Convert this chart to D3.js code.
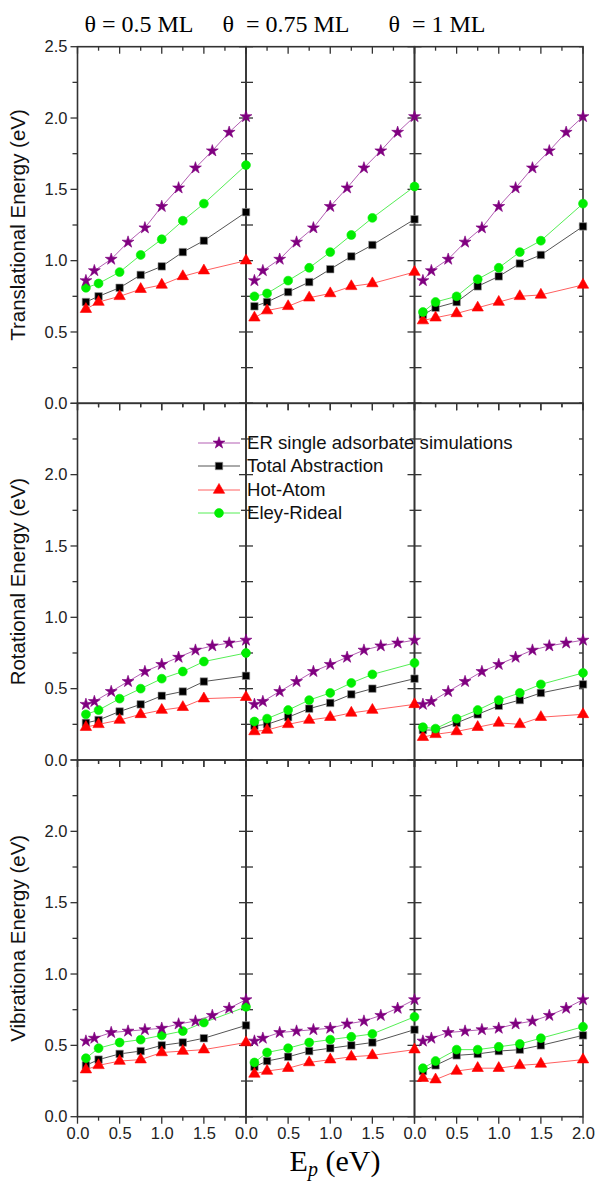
<!DOCTYPE html>
<html><head><meta charset="utf-8">
<script src="https://cdn.jsdelivr.net/npm/d3@7"></script>
<style>body{margin:0;background:#fff}svg{display:block}</style>
</head><body>
<svg id="c" width="595" height="1185"></svg>
<script>
// ---- data ----
const coverages = ["θ = 0.5 ML", "θ  = 0.75 ML", "θ  = 1 ML"];
const rowTitles = ["Translational Energy (eV)", "Rotational Energy (eV)", "Vibrationa Energy (eV)"];
const seriesNames = ["ER single adsorbate simulations", "Total Abstraction", "Hot-Atom", "Eley-Rideal"];
const xER = [0.1, 0.2, 0.4, 0.6, 0.8, 1.0, 1.2, 1.4, 1.6, 1.8, 2.0];
const xMC = [0.1, 0.25, 0.5, 0.75, 1.0, 1.25, 1.5, 2.0];
const xTicks = [0, 0.5, 1.0, 1.5, 2.0];
const yTicks = [0, 0.5, 1.0, 1.5, 2.0, 2.5];

// Translational
const erTrans = [0.86, 0.93, 1.01, 1.13, 1.23, 1.38, 1.51, 1.65, 1.77, 1.90, 2.01];
const transTotal05 = [0.71, 0.75, 0.81, 0.90, 0.96, 1.06, 1.14, 1.34];
const transHot05 = [0.66, 0.71, 0.75, 0.80, 0.83, 0.89, 0.93, 1.00];
const transEley05 = [0.81, 0.84, 0.92, 1.04, 1.15, 1.28, 1.40, 1.67];
const transTotal075 = [0.68, 0.71, 0.78, 0.85, 0.94, 1.03, 1.11, 1.29];
const transHot075 = [0.60, 0.65, 0.68, 0.74, 0.77, 0.82, 0.84, 0.92];
const transEley075 = [0.75, 0.77, 0.86, 0.95, 1.06, 1.18, 1.30, 1.52];
const transTotal1 = [0.62, 0.67, 0.71, 0.82, 0.89, 0.98, 1.04, 1.24];
const transHot1 = [0.58, 0.60, 0.63, 0.67, 0.71, 0.75, 0.76, 0.83];
const transEley1 = [0.64, 0.71, 0.75, 0.87, 0.95, 1.06, 1.14, 1.40];
// Rotational
const erRot = [0.39, 0.41, 0.48, 0.55, 0.62, 0.67, 0.72, 0.77, 0.80, 0.82, 0.84];
const rotTotal05 = [0.26, 0.28, 0.34, 0.39, 0.45, 0.48, 0.55, 0.59];
const rotHot05 = [0.23, 0.25, 0.28, 0.32, 0.35, 0.37, 0.43, 0.44];
const rotEley05 = [0.32, 0.35, 0.43, 0.50, 0.57, 0.62, 0.69, 0.75];
const rotTotal075 = [0.24, 0.25, 0.30, 0.36, 0.40, 0.46, 0.50, 0.57];
const rotHot075 = [0.20, 0.21, 0.25, 0.28, 0.30, 0.33, 0.35, 0.39];
const rotEley075 = [0.27, 0.29, 0.35, 0.42, 0.47, 0.54, 0.60, 0.68];
const rotTotal1 = [0.21, 0.21, 0.26, 0.32, 0.38, 0.42, 0.47, 0.53];
const rotHot1 = [0.16, 0.18, 0.20, 0.23, 0.26, 0.25, 0.30, 0.32];
const rotEley1 = [0.23, 0.22, 0.29, 0.35, 0.42, 0.47, 0.53, 0.61];
// Vibrational
const erVib = [0.53, 0.55, 0.59, 0.60, 0.61, 0.62, 0.65, 0.67, 0.71, 0.76, 0.82];
const vibTotal05 = [0.36, 0.40, 0.44, 0.46, 0.50, 0.52, 0.55, 0.64];
const vibHot05 = [0.33, 0.36, 0.39, 0.40, 0.45, 0.46, 0.47, 0.52];
const vibEley05 = [0.41, 0.48, 0.52, 0.54, 0.57, 0.60, 0.66, 0.77];
const vibTotal075 = [0.35, 0.39, 0.42, 0.46, 0.48, 0.50, 0.52, 0.61];
const vibHot075 = [0.30, 0.32, 0.34, 0.38, 0.40, 0.42, 0.43, 0.47];
const vibEley075 = [0.38, 0.45, 0.48, 0.52, 0.54, 0.56, 0.58, 0.70];
const vibTotal1 = [0.32, 0.36, 0.43, 0.44, 0.46, 0.47, 0.50, 0.57];
const vibHot1 = [0.27, 0.26, 0.32, 0.34, 0.34, 0.36, 0.37, 0.40];
const vibEley1 = [0.34, 0.39, 0.47, 0.47, 0.49, 0.51, 0.55, 0.63];

const erRows = [erTrans, erRot, erVib];
const mcRows = [
  [[transTotal05, transHot05, transEley05], [transTotal075, transHot075, transEley075], [transTotal1, transHot1, transEley1]],
  [[rotTotal05, rotHot05, rotEley05], [rotTotal075, rotHot075, rotEley075], [rotTotal1, rotHot1, rotEley1]],
  [[vibTotal05, vibHot05, vibEley05], [vibTotal075, vibHot075, vibEley075], [vibTotal1, vibHot1, vibEley1]]
];

// ---- styles ----
const styles = [
  {line: "#b35fb3", fill: "#800080", stroke: "#800080", sym: d3.symbolStar, size: 44},
  {line: "#555", fill: "#000", stroke: "#999", sym: d3.symbolSquare, size: 56},
  {line: "#ff6060", fill: "#ff0000", stroke: "#ff0000", sym: d3.symbolTriangle, size: 56},
  {line: "#55ee55", fill: "#00ee00", stroke: "#00ee00", sym: d3.symbolCircle, size: 62}
];

const svg = d3.select("#c");
const colX = [[77.5, 246], [246, 414.5], [414.5, 583]];
const rowY = [[403.3, 46.7], [760, 403.3], [1116.7, 760]];
const axisColor = "#333";
const sans = "Liberation Sans, Arial, sans-serif";
const serif = "Liberation Serif, Times New Roman, serif";

const xs = colX.map(r => d3.scaleLinear().domain([0, 2]).range(r));
const ys = rowY.map(r => d3.scaleLinear().domain([0, 2.5]).range(r));
const minorX = d3.range(0, 2.001, 0.25);
const minorY = d3.range(0, 2.501, 0.25);
const isMajor = d => Math.abs(d * 2 - Math.round(d * 2)) < 1e-6;

const gAx = svg.append("g");
for (let r = 0; r < 3; r++) {
  for (let c = 0; c < 3; c++) {
    const x = xs[c], y = ys[r];
    const [x0, x1] = x.range(), [yb, yt] = y.range();
    [yt, yb].forEach(yy => {
      gAx.selectAll(null).data(minorX).join("line")
        .attr("x1", d => x(d)).attr("x2", d => x(d))
        .attr("y1", yy).attr("y2", d => yy + (isMajor(d) ? 7 : 4))
        .attr("stroke", axisColor).attr("stroke-width", 1.3);
    });
    gAx.selectAll(null).data(minorY).join("line")
      .attr("y1", d => y(d)).attr("y2", d => y(d))
      .attr("x1", d => x0 - (isMajor(d) ? 7 : 5))
      .attr("x2", c === 0 ? x0 : x0 + 7)
      .attr("stroke", axisColor).attr("stroke-width", 1.3);
    if (c === 2) {
      gAx.selectAll(null).data(minorY).join("line")
        .attr("y1", d => y(d)).attr("y2", d => y(d))
        .attr("x1", x1 - 4).attr("x2", x1)
        .attr("stroke", axisColor).attr("stroke-width", 1.3);
    }
    gAx.append("rect").attr("x", x0).attr("y", yt).attr("width", x1 - x0).attr("height", yb - yt)
      .attr("fill", "none").attr("stroke", axisColor).attr("stroke-width", 1.6);
  }
  const y = ys[r];
  const labs = r === 0 ? yTicks : yTicks.slice(0, 5);
  const ax = d3.axisLeft(y).tickValues(labs).tickFormat(d3.format(".1f")).tickSize(0).tickPadding(10);
  const g = svg.append("g").attr("transform", `translate(${colX[0][0]},0)`).call(ax);
  g.select(".domain").remove();
  g.selectAll("text").attr("font-family", sans).attr("font-size", 16.5).attr("fill", "#222");
  svg.append("text").attr("transform", `translate(25,${(rowY[r][0] + rowY[r][1]) / 2}) rotate(-90)`)
    .attr("text-anchor", "middle").attr("font-family", sans).attr("font-size", 20.5).attr("fill", "#111")
    .text(rowTitles[r]);
}
for (let c = 0; c < 3; c++) {
  const ax = d3.axisBottom(xs[c]).tickValues(c === 2 ? xTicks : xTicks.slice(0, 4))
    .tickFormat(d3.format(".1f")).tickSize(0).tickPadding(11);
  const g = svg.append("g").attr("transform", `translate(0,${rowY[2][0]})`).call(ax);
  g.select(".domain").remove();
  g.selectAll("text").attr("font-family", sans).attr("font-size", 16.5).attr("fill", "#222");
  svg.append("text").attr("x", [139, 286, 437][c]).attr("y", 32).attr("text-anchor", "middle")
    .attr("font-family", serif).attr("font-size", 24).attr("fill", "#000")
    .style("white-space", "pre").text(coverages[c]);
}
const xt = svg.append("text").attr("x", 335).attr("y", 1171).attr("text-anchor", "middle")
  .attr("font-family", serif).attr("font-size", 30).attr("fill", "#000");
xt.append("tspan").text("E");
xt.append("tspan").attr("font-size", 20).attr("font-style", "italic").attr("dy", 5).text("p");
xt.append("tspan").attr("dy", -5).text(" (eV)");

// ---- series ----
const gData = svg.append("g");
function drawSeries(xv, yv, x, y, st) {
  const line = d3.line().x((d, i) => x(xv[i])).y(d => y(d));
  gData.append("path").datum(yv).attr("d", line).attr("fill", "none")
    .attr("stroke", st.line).attr("stroke-width", 1);
  gData.selectAll(null).data(yv).join("path")
    .attr("transform", (d, i) => `translate(${x(xv[i])},${y(d)})`)
    .attr("d", d3.symbol().type(st.sym).size(st.size))
    .attr("fill", st.fill).attr("stroke", st.stroke).attr("stroke-width", 0.6);
}
for (let r = 0; r < 3; r++) {
  for (let c = 0; c < 3; c++) {
    const [tot, hot, eley] = mcRows[r][c];
    drawSeries(xMC, tot, xs[c], ys[r], styles[1]);
    drawSeries(xMC, hot, xs[c], ys[r], styles[2]);
    drawSeries(xMC, eley, xs[c], ys[r], styles[3]);
    drawSeries(xER, erRows[r], xs[c], ys[r], styles[0]);
  }
}

// ---- legend ----
const leg = svg.append("g");
const legY = [443, 466, 490, 513];
seriesNames.forEach((name, i) => {
  const st = styles[i];
  leg.append("line").attr("x1", 198).attr("x2", 240).attr("y1", legY[i]).attr("y2", legY[i])
    .attr("stroke", st.line).attr("stroke-width", 1);
  leg.append("path").attr("transform", `translate(219,${legY[i]})`)
    .attr("d", d3.symbol().type(st.sym).size(st.size)).attr("fill", st.fill).attr("stroke", st.stroke).attr("stroke-width", 0.6);
  leg.append("text").attr("x", 247).attr("y", legY[i] + 6).attr("font-family", sans).attr("font-size", 18.6)
    .attr("fill", "#111").text(name);
});
</script>
</body></html>
